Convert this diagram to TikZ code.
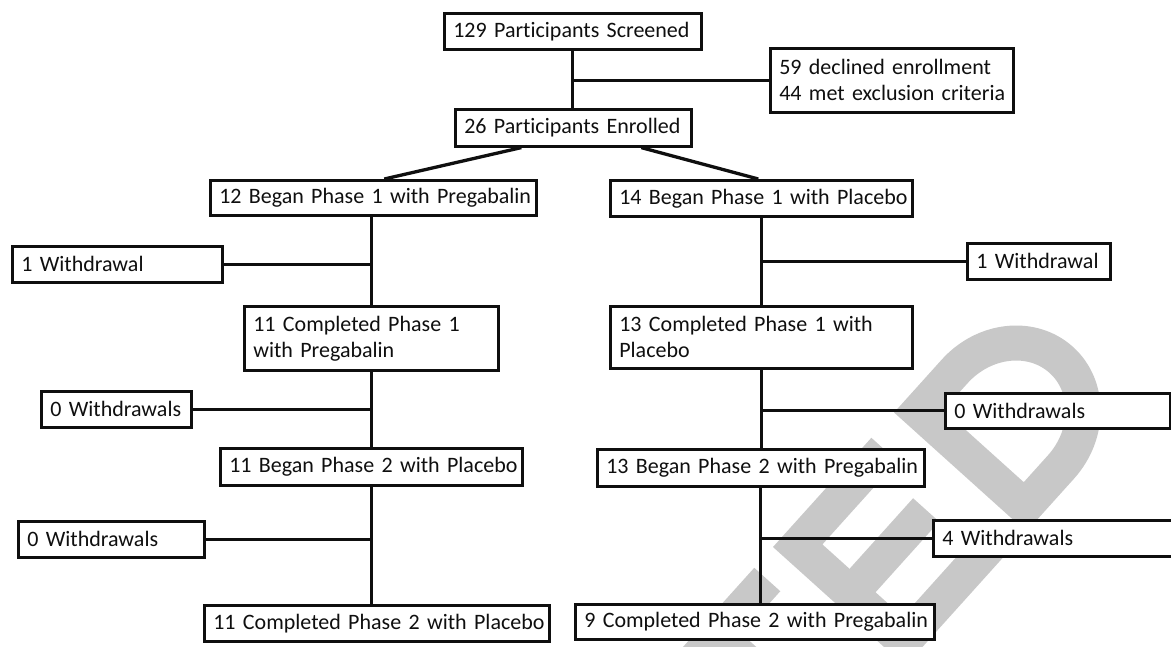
\documentclass[tikz,border=0pt]{standalone}
\usepackage{fontspec}
\setmainfont{Carlito}[Ligatures=NoCommon]
\usetikzlibrary{calc}
\definecolor{wm}{RGB}{200,200,200}
\definecolor{ink}{RGB}{15,15,15}
\pgfdeclarelayer{wml}
\pgfsetlayers{wml,main}
\tikzset{
  box/.style={draw=ink, line width=2.6pt, fill=white, anchor=north west,
    inner xsep=9pt, inner ysep=0pt, align=left, text=ink,
    font=\fontsize{22}{26}\selectfont},
  conn/.style={draw=ink, line width=3.3pt},
  wmark/.style={draw=wm, line width=35pt, line join=miter}
}
\begin{document}
\begin{tikzpicture}[x=1pt,y=-1pt]
\useasboundingbox (0,0) rectangle (1171,646);
\begin{pgfonlayer}{wml}
\fill[white] (0,0) rectangle (1171,646);
\begin{scope}[shift={(773,547)}, x={(0.669pt,0.743pt)}, y={(-0.743pt,0.669pt)}, wmark]
  % T
  \draw (-178,-17.5) -- (-28,-17.5);
  \draw (-103,0) -- (-103,-178);
  % E
  \draw (147,-17.5) -- (17.5,-17.5) -- (17.5,-160.5) -- (147,-160.5);
  \draw (17.5,-89) -- (130,-89);
  % D
  \draw (198.5,-17.5) -- (252,-17.5) arc[start angle=90, end angle=-90, x radius=80, y radius=71.5] -- (198.5,-160.5) -- cycle;
\end{scope}
\end{pgfonlayer}

% nodes
\node[box, minimum width=257pt, text width=239pt, minimum height=36pt] (scr) at (443,12) {\mbox{129 Participants Screened}};
\node[box, minimum width=236pt, text width=218pt, minimum height=37pt] (enr) at (454,108) {\mbox{26 Participants Enrolled}};
\node[box, minimum width=243pt, text width=225pt, minimum height=64pt] (exc) at (769,47) {\mbox{59 declined enrollment}\\\mbox{44 met exclusion criteria}};
\node[box, minimum width=326pt, text width=308pt, minimum height=35pt] (b12) at (209,179) {\mbox{12 Began Phase 1 with Pregabalin}};
\node[box, minimum width=302pt, text width=284pt, minimum height=36pt] (b14) at (609,179) {\mbox{14 Began Phase 1 with Placebo}};
\node[box, minimum width=210pt, text width=192pt, minimum height=36pt] (w1l) at (11,245) {\mbox{1 Withdrawal}};
\node[box, minimum width=143pt, text width=125pt, minimum height=36pt] (w1r) at (966,242) {\mbox{1 Withdrawal}};
\node[box, minimum width=254pt, text width=236pt, minimum height=64pt] (c11) at (243,305) {\mbox{11 Completed Phase 1}\\\mbox{with Pregabalin}};
\node[box, minimum width=302pt, text width=284pt, minimum height=62pt] (c13) at (609,305) {\mbox{13 Completed Phase 1 with}\\\mbox{Placebo}};
\node[box, minimum width=150pt, text width=132pt, minimum height=36pt] (z1l) at (40,390) {\mbox{0 Withdrawals}};
\node[box, minimum width=225pt, text width=207pt, minimum height=35pt] (z1r) at (944,392) {\mbox{0 Withdrawals}};
\node[box, minimum width=302pt, text width=284pt, minimum height=37pt] (b2l) at (219,447) {\mbox{11 Began Phase 2 with Placebo}};
\node[box, minimum width=327pt, text width=309pt, minimum height=37pt] (b2r) at (596,448) {\mbox{13 Began Phase 2 with Pregabalin}};
\node[box, minimum width=186pt, text width=168pt, minimum height=36pt] (z2l) at (17,520) {\mbox{0 Withdrawals}};
\node[box, minimum width=260pt, text width=242pt, minimum height=36pt] (w4r) at (932,519) {\mbox{4 Withdrawals}};
\node[box, minimum width=345pt, text width=327pt, minimum height=36pt] (c2l) at (203,604) {\mbox{11 Completed Phase 2 with Placebo}};
\node[box, minimum width=359pt, text width=341pt, minimum height=35pt] (c2r) at (574,603) {\mbox{9 Completed Phase 2 with Pregabalin}};

% connectors
\draw[conn] (scr.south) -- (scr.south |- enr.north);
\draw[conn] (exc.west) -- (exc.west -| scr.south);
\draw[conn] ($(enr.south)+(-52,0)$) -- ($(b12.north)+(11,0)$);
\draw[conn] ($(enr.south)+(68,0)$) -- ($(b14.north)+(-3,0)$);

\draw[conn] (c11.north |- b12.south) -- (c11.north);
\draw[conn] (w1l.east) -- (w1l.east -| c11.north);
\draw[conn] (c11.south) -- (c11.south |- b2l.north);
\draw[conn] (z1l.east) -- (z1l.east -| c11.south);
\draw[conn] (b2l.south) -- (b2l.south |- c2l.north);
\draw[conn] (z2l.east) -- (z2l.east -| b2l.south);

\draw[conn] (b14.south) -- (b14.south |- c13.north);
\draw[conn] (w1r.west) -- (w1r.west -| b14.south);
\draw[conn] (c13.south) -- (c13.south |- b2r.north);
\draw[conn] (z1r.west) -- (z1r.west -| c13.south);
\draw[conn] (b2r.south) -- (b2r.south |- c2r.north);
\draw[conn] (w4r.west) -- (w4r.west -| b2r.south);
\end{tikzpicture}
\end{document}
